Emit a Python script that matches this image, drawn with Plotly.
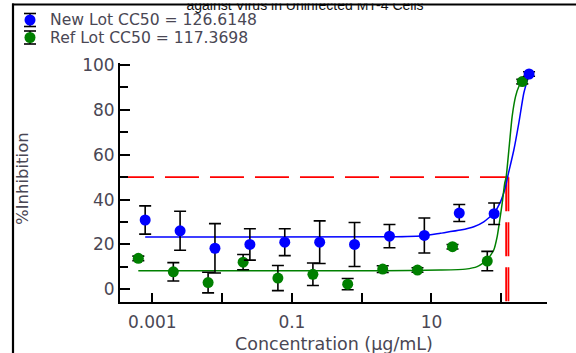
import plotly.graph_objects as go

# ---------------- data ----------------
conc_new = [0.00079, 0.0025, 0.0079, 0.025, 0.079, 0.25, 0.79, 2.5, 7.9, 25, 79, 250]
inh_new = [30.9, 26.1, 18.3, 20.0, 21.0, 21.0, 20.0, 23.7, 24.0, 34.0, 33.7, 96.0]
err_new = [6.3, 8.7, 11.0, 7.0, 6.0, 9.5, 9.8, 5.2, 7.8, 3.8, 4.8, 1.0]

conc_ref = [0.00063, 0.002, 0.0063, 0.02, 0.063, 0.2, 0.63, 2, 6.3, 20, 63, 200]
inh_ref = [13.8, 7.8, 3.0, 12.1, 5.0, 6.7, 2.3, 9.0, 8.6, 19.0, 12.6, 92.6]
err_ref = [1.0, 4.1, 4.6, 3.4, 5.6, 5.0, 2.5, 1.5, 1.0, 1.0, 4.3, 1.0]

fit_new_x = [0.00079, 2.5, 7.9, 13.4, 26.0, 40.4, 56.1, 78, 97.4, 115, 122, 151, 178, 210, 250]
fit_new_y = [23.3, 23.4, 23.9, 25.0, 26.4, 27.9, 30.1, 33.9, 39.0, 45.7, 49.5, 62, 74, 87.4, 96.0]

fit_ref_x = [0.00063, 2.0, 13.4, 30.7, 45.1, 62.8, 78, 87.3, 95.1, 103, 112, 117.4, 131, 143, 160, 178, 200]
fit_ref_y = [8.3, 8.3, 8.6, 9.0, 10.1, 13.1, 17.5, 23.5, 30.9, 38.3, 47.3, 50.0, 65, 77, 85.9, 90.3, 92.6]

cc50_new = 126.6148
cc50_ref = 117.3698
cut_level = 50
line_start = 0.000448

legend_labels = ["New Lot CC50 = 126.6148", "Ref Lot CC50 = 117.3698"]
x_tickvals = [0.001, 0.01, 0.1, 1, 10, 100]
x_ticktext = ["0.001", "", "0.1", "", "10", ""]
y_tickvals = [0, 20, 40, 60, 80, 100]
x_title = "Concentration (µg/mL)"
y_title = "%Inhibition"
title_text = "against Virus in Uninfected MT-4 Cells"

# ---------------- styling ----------------
BLUE = "#0000FF"
GREEN = "#008000"
RED = "#FF0000"
TXT = "#4a4754"
FONT = "DejaVu Sans"

W, H = 576, 353
L, R, T, B = 120, 29, 63, 51
PW, PH = W - L - R, H - T - B
XR = [-3.463, 2.655]
YR = [-5.66, 100.9]


def px(x):
    return (x - L) / PW


def py(y):
    return (T + PH - y) / PH


fig = go.Figure()

# red reference lines
fig.add_trace(go.Scatter(
    x=[line_start, cc50_new], y=[cut_level, cut_level], mode="lines",
    line=dict(color=RED, width=1.6,
              dash="26px,11px,34px,11px,34px,11px,34px,11px,34px,11px,34px,11px,34px,11px,34px,11px,34px,11px,34px"),
    hoverinfo="skip", showlegend=False))
for c in (cc50_ref, cc50_new):
    fig.add_trace(go.Scatter(
        x=[c, c], y=[cut_level, YR[0]], mode="lines",
        line=dict(color=RED, width=1.8, dash="34px,11px"),
        hoverinfo="skip", showlegend=False))

# fit curves
fig.add_trace(go.Scatter(x=fit_new_x, y=fit_new_y, mode="lines",
                         line=dict(color=BLUE, width=1.5, shape="spline", smoothing=0.5),
                         showlegend=False))
fig.add_trace(go.Scatter(x=fit_ref_x, y=fit_ref_y, mode="lines",
                         line=dict(color=GREEN, width=1.5, shape="spline", smoothing=0.5),
                         showlegend=False))

# data points
for xs, ys, es, col in ((conc_ref, inh_ref, err_ref, GREEN), (conc_new, inh_new, err_new, BLUE)):
    fig.add_trace(go.Scatter(
        x=xs, y=ys, mode="markers",
        marker=dict(color=col, size=11, symbol="circle", line=dict(width=0)),
        error_y=dict(type="data", array=es, visible=True, color="black",
                     thickness=1.6, width=6),
        showlegend=False))

shapes = []
annotations = []

# clipped title: drawn as a shape label so the following shapes can cover its top
shapes.append(dict(type="rect", xref="paper", yref="paper", layer="above",
                   x0=px(100), x1=px(510), y0=py(12), y1=py(-20),
                   line=dict(width=0), fillcolor="rgba(0,0,0,0)",
                   label=dict(text=title_text, textposition="bottom center", padding=0,
                              font=dict(family="Liberation Sans", size=14, color="#111"))))
# white mask above the frame line, then the frame lines
shapes.append(dict(type="rect", xref="paper", yref="paper", layer="above",
                   x0=px(-5), x1=px(600), y0=py(3.5), y1=py(-10),
                   line=dict(width=0), fillcolor="white"))
shapes.append(dict(type="line", xref="paper", yref="paper", layer="above",
                   x0=px(12), x1=px(600), y0=py(4.5), y1=py(4.5),
                   line=dict(color="black", width=2)))
shapes.append(dict(type="line", xref="paper", yref="paper", layer="above",
                   x0=px(13), x1=px(13), y0=py(3.5), y1=py(360),
                   line=dict(color="black", width=2.2)))

# legend
leg_rows = [(20, BLUE), (37.5, GREEN)]
for (cy, col), lab in zip(leg_rows, legend_labels):
    cx = 30
    shapes.append(dict(type="line", xref="paper", yref="paper",
                       x0=px(cx), x1=px(cx), y0=py(cy - 6.5), y1=py(cy + 6.5),
                       line=dict(color="black", width=1.5)))
    for dy in (-6.5, 6.5):
        shapes.append(dict(type="line", xref="paper", yref="paper",
                           x0=px(cx - 6), x1=px(cx + 6), y0=py(cy + dy), y1=py(cy + dy),
                           line=dict(color="black", width=1.6)))
    shapes.append(dict(type="circle", xref="paper", yref="paper",
                       x0=px(cx - 5.5), x1=px(cx + 5.5), y0=py(cy - 5.5), y1=py(cy + 5.5),
                       fillcolor=col, line=dict(width=0)))
    annotations.append(dict(xref="paper", yref="paper", x=px(48), y=py(cy),
                            xanchor="left", yanchor="middle", showarrow=False,
                            text=lab, font=dict(family=FONT, size=15.6, color=TXT)))

# axis titles
annotations.append(dict(xref="paper", yref="paper", x=px(334), y=py(344),
                        xanchor="center", yanchor="middle", showarrow=False,
                        text=x_title, font=dict(family=FONT, size=17.5, color=TXT)))
annotations.append(dict(xref="paper", yref="paper", x=px(22), y=py(179),
                        xanchor="center", yanchor="middle", showarrow=False, textangle=-90,
                        text=y_title, font=dict(family=FONT, size=16.5, color=TXT)))

fig.update_layout(
    width=W, height=H,
    margin=dict(l=L, r=R, t=T, b=B, pad=0),
    paper_bgcolor="white", plot_bgcolor="white",
    showlegend=False,
    shapes=shapes, annotations=annotations,
    xaxis=dict(type="log", range=XR, showgrid=False, zeroline=False,
               showline=True, linecolor="black", linewidth=2,
               ticks="inside", ticklen=9, tickwidth=1.6, tickcolor="black",
               tickvals=x_tickvals, ticktext=x_ticktext, ticklabelstandoff=4,
               tickfont=dict(family=FONT, size=17, color=TXT)),
    yaxis=dict(range=YR, showgrid=False, zeroline=False,
               showline=True, linecolor="black", linewidth=2,
               ticks="inside", ticklen=10, tickwidth=1.6, tickcolor="black",
               tickvals=y_tickvals, ticklabelstandoff=0,
               minor=dict(tickvals=[10, 30, 50, 70, 90], ticks="inside", ticklen=8,
                          tickwidth=1.6, tickcolor="black", showgrid=False),
               tickfont=dict(family=FONT, size=17, color=TXT)),
)

fig.write_html("out.html",
               config={"displayModeBar": False},
               post_script="document.body.style.margin='0';document.body.style.padding='0';")
